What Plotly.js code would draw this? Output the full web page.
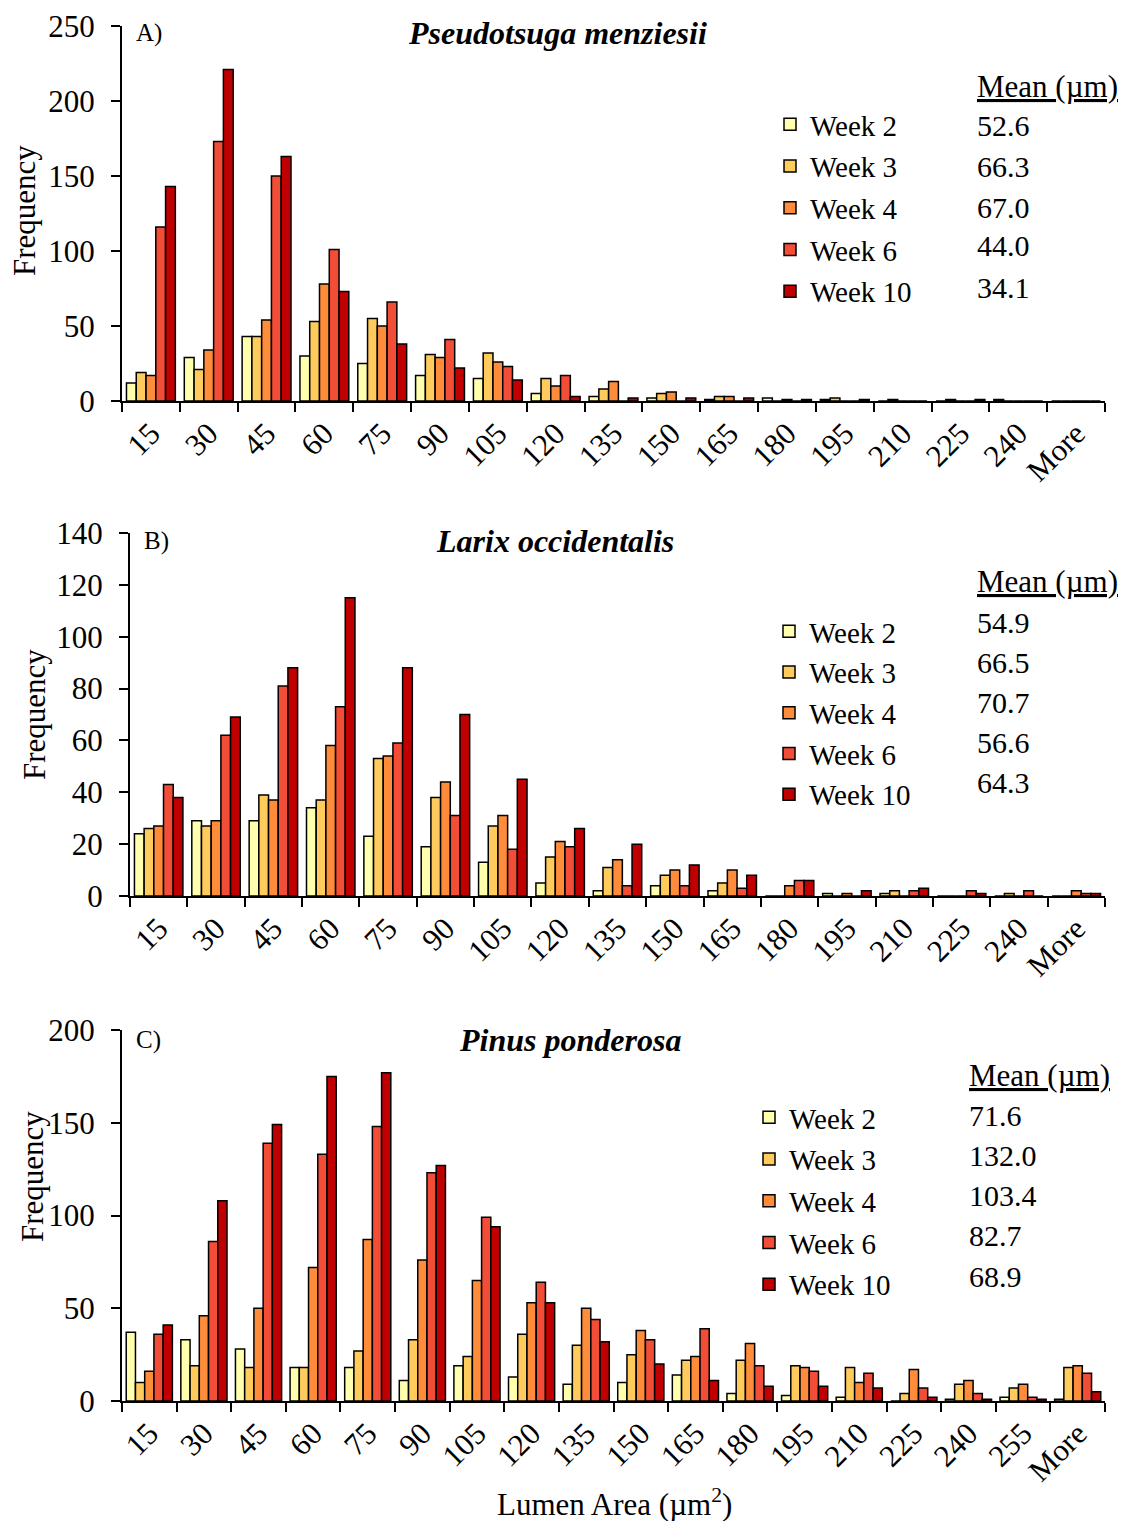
<!DOCTYPE html>
<html><head><meta charset="utf-8">
<script src="https://cdn.plot.ly/plotly-3.0.1.min.js"></script>
<style>html,body{margin:0;padding:0;background:#fff}</style>
</head><body><div id="chart" style="width:1122px;height:1521px"></div>
<script>
// ---------- data ----------
const weeks = ['Week 2', 'Week 3', 'Week 4', 'Week 6', 'Week 10'];
const binsAB = ['15','30','45','60','75','90','105','120','135','150','165','180','195','210','225','240','More'];
const binsC  = ['15','30','45','60','75','90','105','120','135','150','165','180','195','210','225','240','255','More'];

// A) Pseudotsuga menziesii
const a_w2  = [12, 29, 43, 30, 25, 17, 15, 5, 3, 2, 1, 2, 1, 0, 0, 1, 0];
const a_w3  = [19, 21, 43, 53, 55, 31, 32, 15, 8, 5, 3, 0, 2, 1, 1, 0, 0];
const a_w4  = [17, 34, 54, 78, 50, 29, 26, 10, 13, 6, 3, 1, 0, 0, 0, 0, 0];
const a_w6  = [116, 173, 150, 101, 66, 41, 23, 17, 0, 0, 0, 0, 0, 0, 0, 0, 0];
const a_w10 = [143, 221, 163, 73, 38, 22, 14, 3, 2, 2, 2, 1, 1, 0, 1, 0, 0];
const meansA = [52.6, 66.3, 67.0, 44.0, 34.1];

// B) Larix occidentalis
const b_w2  = [24, 29, 29, 34, 23, 19, 13, 5, 2, 4, 2, 0, 1, 1, 0, 0, 0];
const b_w3  = [26, 27, 39, 37, 53, 38, 27, 15, 11, 8, 5, 0, 0, 2, 0, 1, 0];
const b_w4  = [27, 29, 37, 58, 54, 44, 31, 21, 14, 10, 10, 4, 1, 0, 0, 0, 2];
const b_w6  = [43, 62, 81, 73, 59, 31, 18, 19, 4, 4, 3, 6, 0, 2, 2, 2, 1];
const b_w10 = [38, 69, 88, 115, 88, 70, 45, 26, 20, 12, 8, 6, 2, 3, 1, 0, 1];
const meansB = [54.9, 66.5, 70.7, 56.6, 64.3];

// C) Pinus ponderosa
const c_w2  = [37, 33, 28, 18, 18, 11, 19, 13, 9, 10, 14, 4, 3, 2, 0, 1, 2, 1];
const c_w3  = [10, 19, 18, 18, 27, 33, 24, 36, 30, 25, 22, 22, 19, 18, 4, 9, 7, 18];
const c_w4  = [16, 46, 50, 72, 87, 76, 65, 53, 50, 38, 24, 31, 18, 10, 17, 11, 9, 19];
const c_w6  = [36, 86, 139, 133, 148, 123, 99, 64, 44, 33, 39, 19, 16, 15, 7, 4, 2, 15];
const c_w10 = [41, 108, 149, 175, 177, 127, 94, 53, 32, 20, 11, 8, 8, 7, 2, 1, 1, 5];
const meansC = [71.6, 132.0, 103.4, 82.7, 68.9];

// ---------- styling ----------
const colors = ['#FFFFAE', '#FFCB5C', '#FF8C3A', '#F24D37', '#C00000'];
const FONT = 'Liberation Serif, Times New Roman, serif';
const W = 1122, H = 1521;
const px = v => v / W;
const py = v => 1 - v / H;

const panels = [
  {bins: binsAB, series: [a_w2, a_w3, a_w4, a_w6, a_w10], means: meansA, xa: 'x',  ya: 'y',  lg: 'legend',
   title: 'Pseudotsuga menziesii', label: 'A)', x0: 122, x1: 1105, yTop: 26, yBot: 401, range: [0, 250], dtick: 50,
   titleX: 557, titleY: 33, legX: 770, legY: 99, legGap: 1, meanX: 975, meanHeadY: 86, meanY: [126, 166, 207, 246, 287], yTitleX: 25, yTitleY: 211},
  {bins: binsAB, series: [b_w2, b_w3, b_w4, b_w6, b_w10], means: meansB, xa: 'x2', ya: 'y2', lg: 'legend2',
   title: 'Larix occidentalis', label: 'B)', x0: 130, x1: 1105, yTop: 533, yBot: 896, range: [0, 140], dtick: 20,
   titleX: 555, titleY: 541, legX: 769, legY: 606, legGap: 0, meanX: 975, meanHeadY: 582, meanY: [622, 662, 702, 742, 782], yTitleX: 34, yTitleY: 715},
  {bins: binsC,  series: [c_w2, c_w3, c_w4, c_w6, c_w10], means: meansC, xa: 'x3', ya: 'y3', lg: 'legend3',
   title: 'Pinus ponderosa', label: 'C)', x0: 122, x1: 1105, yTop: 1030, yBot: 1401, range: [0, 200], dtick: 50,
   titleX: 570, titleY: 1040, legX: 749, legY: 1092, legGap: 1, meanX: 967, meanHeadY: 1075, meanY: [1115, 1155, 1195, 1235, 1276], yTitleX: 32, yTitleY: 1177}
];

const traces = [];
const layout = {
  width: W, height: H,
  margin: {l: 0, r: 0, t: 0, b: 0},
  paper_bgcolor: '#fff', plot_bgcolor: 'rgba(0,0,0,0)',
  barmode: 'group', bargap: 0.155, bargroupgap: 0,
  font: {family: FONT, color: '#000', size: 28},
  annotations: [],
  showlegend: true
};

panels.forEach((p, k) => {
  const sfx = k === 0 ? '' : String(k + 1);
  p.series.forEach((vals, i) => {
    traces.push({
      type: 'bar', x: p.bins, y: vals, name: weeks[i],
      xaxis: p.xa, yaxis: p.ya, legend: p.lg, legendgroup: p.lg + '_' + i,
      marker: {color: colors[i], line: {color: '#000', width: 1.5}},
      hoverinfo: 'skip'
    });
  });
  layout['xaxis' + sfx] = {
    domain: [px(p.x0), px(p.x1)], anchor: p.ya, type: 'category',
    ticks: 'outside', ticklen: 9, tickwidth: 2, tickcolor: '#000', tickson: 'boundaries',
    showline: true, linecolor: '#000', linewidth: 2, showgrid: false, zeroline: false,
    tickangle: -45, tickfont: {family: FONT, size: 31, color: '#000'}, fixedrange: true
  };
  layout['yaxis' + sfx] = {
    domain: [py(p.yBot), py(p.yTop)], anchor: p.xa, range: p.range, dtick: p.dtick,
    ticks: 'outside', ticklen: 9, tickwidth: 2, tickcolor: '#000', ticklabelstandoff: 10,
    showline: true, linecolor: '#000', linewidth: 2, showgrid: false, zeroline: false,
    tickfont: {family: FONT, size: 31, color: '#000'}, fixedrange: true
  };
  layout[p.lg] = {
    x: px(p.legX), y: py(p.legY), xanchor: 'left', yanchor: 'top',
    bgcolor: 'rgba(0,0,0,0)', borderwidth: 0, itemwidth: 30, traceorder: 'grouped',
    font: {family: FONT, size: 29, color: '#000'}, tracegroupgap: p.legGap
  };
  const ann = layout.annotations;
  ann.push({xref: 'paper', yref: 'paper', x: px(p.titleX), y: py(p.titleY), xanchor: 'center', yanchor: 'middle',
    text: '<b><i>' + p.title + '</i></b>', showarrow: false, font: {family: FONT, size: 32, color: '#000'}});
  ann.push({xref: 'paper', yref: 'paper', x: px(p.x0 + 12), y: py(p.titleY), xanchor: 'left', yanchor: 'middle',
    text: p.label, showarrow: false, font: {family: FONT, size: 25, color: '#000'}});
  ann.push({xref: 'paper', yref: 'paper', x: px(p.meanX), y: py(p.meanHeadY), xanchor: 'left', yanchor: 'middle',
    text: '<u>Mean (µm)</u>', showarrow: false, font: {family: FONT, size: 31, color: '#000'}});
  p.means.forEach((m, i) => {
    ann.push({xref: 'paper', yref: 'paper', x: px(p.meanX), y: py(p.meanY[i]), xanchor: 'left', yanchor: 'middle',
      text: m.toFixed(1), showarrow: false, font: {family: FONT, size: 30, color: '#000'}});
  });
  ann.push({xref: 'paper', yref: 'paper', x: px(p.yTitleX), y: py(p.yTitleY), xanchor: 'center', yanchor: 'middle',
    text: 'Frequency', textangle: -90, showarrow: false, font: {family: FONT, size: 31, color: '#000'}});
});

layout.annotations.push({xref: 'paper', yref: 'paper', x: px(614), y: py(1502), xanchor: 'center', yanchor: 'middle',
  text: 'Lumen Area (µm<sup>2</sup>)', showarrow: false, font: {family: FONT, size: 31, color: '#000'}});

Plotly.newPlot('chart', traces, layout, {displayModeBar: false, staticPlot: true});
</script>
</body></html>
